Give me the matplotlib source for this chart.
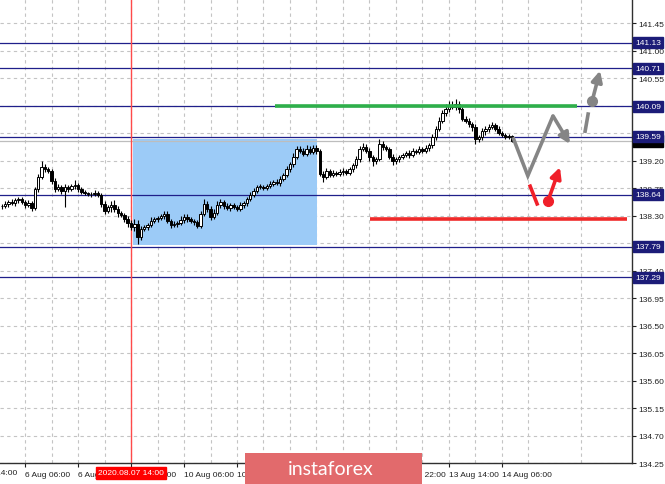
import numpy as np
import matplotlib
matplotlib.use("Agg")
from matplotlib import pyplot as plt
from matplotlib.patches import Rectangle
import matplotlib.transforms as mtransforms

# Data: hourly candles, bar index 0 = 5 Aug 14:00
first_bar = 9
first_open = 138.45
closes = [
    138.46, 138.49, 138.52, 138.50, 138.55, 138.57, 138.52, 138.47, 138.50, 138.42,
    138.73, 138.93, 139.09, 139.06, 139.03, 138.86, 138.73, 138.77, 138.70, 138.77,
    138.73, 138.78, 138.80, 138.73, 138.69, 138.67, 138.65, 138.65, 138.67, 138.64,
    138.49, 138.37, 138.44, 138.47, 138.41, 138.34, 138.31, 138.24, 138.18, 138.11,
    138.16, 137.95, 138.08, 138.11, 138.14, 138.21, 138.24, 138.26, 138.29, 138.32,
    138.21, 138.14, 138.16, 138.18, 138.23, 138.28, 138.24, 138.21, 138.19, 138.13,
    138.32, 138.49, 138.41, 138.28, 138.34, 138.47, 138.52, 138.46, 138.42, 138.47,
    138.44, 138.41, 138.47, 138.50, 138.57, 138.64, 138.70, 138.77, 138.77, 138.75,
    138.78, 138.82, 138.85, 138.83, 138.90, 138.96, 139.06, 139.14, 139.26, 139.39,
    139.36, 139.31, 139.39, 139.34, 139.41, 139.36, 138.98, 138.93, 139.03, 138.96,
    139.00, 138.98, 139.01, 139.03, 139.00, 139.06, 139.13, 139.22, 139.39, 139.42,
    139.36, 139.26, 139.19, 139.22, 139.47, 139.42, 139.39, 139.26, 139.19, 139.22,
    139.26, 139.29, 139.32, 139.29, 139.36, 139.34, 139.39, 139.36, 139.41, 139.45,
    139.58, 139.72, 139.85, 139.98, 140.04, 140.11, 140.08, 140.13, 140.04, 139.88,
    139.85, 139.80, 139.75, 139.55, 139.58, 139.68, 139.72, 139.75, 139.78, 139.72,
    139.65, 139.62, 139.58, 139.60, 139.52,
]
# wick lengths in pips (0.01)
wick_up = [
    3, 4, 3, 5, 4, 3, 4, 3, 5, 3,
    4, 5, 10, 6, 4, 3, 5, 4, 3, 5,
    3, 4, 8, 3, 4, 3, 2, 3, 4, 3,
    3, 4, 3, 6, 8, 5, 4, 3, 6, 4,
    8, 6, 5, 3, 4, 6, 3, 4, 3, 5,
    6, 4, 5, 3, 6, 5, 4, 3, 4, 3,
    5, 8, 4, 5, 6, 7, 5, 4, 5, 4,
    4, 3, 5, 4, 3, 4, 5, 3, 4, 3,
    3, 4, 3, 5, 4, 3, 5, 4, 6, 5,
    5, 4, 6, 4, 5, 4, 3, 5, 4, 3,
    4, 3, 5, 4, 3, 4, 3, 5, 4, 6,
    5, 4, 3, 4, 8, 5, 4, 3, 4, 3,
    3, 4, 3, 5, 4, 3, 4, 3, 5, 4,
    5, 4, 6, 5, 8, 7, 6, 8, 5, 4,
    5, 4, 3, 5, 4, 6, 5, 4, 5, 3,
    4, 3, 3, 3, 2,
]
wick_dn = [
    4, 3, 5, 3, 4, 5, 3, 4, 3, 5,
    3, 4, 4, 5, 3, 4, 5, 3, 4, 26,
    4, 3, 4, 5, 3, 4, 3, 4, 3, 4,
    5, 4, 3, 8, 5, 6, 4, 5, 6, 5,
    6, 12, 5, 4, 5, 3, 4, 5, 3, 4,
    4, 5, 3, 4, 3, 5, 4, 3, 5, 4,
    4, 3, 5, 6, 4, 3, 4, 5, 3, 4,
    3, 4, 3, 4, 5, 3, 4, 3, 4, 3,
    4, 3, 4, 3, 5, 4, 3, 5, 4, 3,
    3, 4, 3, 4, 3, 5, 4, 8, 4, 3,
    3, 4, 3, 5, 4, 3, 4, 5, 4, 3,
    4, 6, 8, 4, 3, 5, 4, 3, 6, 4,
    4, 3, 4, 5, 3, 4, 3, 4, 3, 5,
    4, 5, 4, 3, 5, 4, 3, 5, 6, 4,
    4, 5, 6, 8, 5, 4, 6, 5, 4, 3,
    3, 4, 3, 3, 2,
]

levels = [141.13, 140.71, 140.09, 139.59, 138.64, 137.79, 137.29]
bid_price = 139.52
price_ticks = [134.25, 134.70, 135.15, 135.60, 136.05, 136.50, 136.95, 137.40,
               137.85, 138.30, 138.75, 139.20, 139.65, 140.10, 140.55, 141.00, 141.45]
time_ticks = [16, 32, 48, 64, 80, 96, 112, 128, 144, 160]
time_labels = ["6 Aug 06:00", "6 Aug 22:00", "7 Aug 14:00",
               "10 Aug 06:00", "10 Aug 22:00", "11 Aug 14:00", "12 Aug 06:00",
               "12 Aug 22:00", "13 Aug 14:00", "14 Aug 06:00"]
cut_label_bar = 0
cut_label = "5 Aug 14:00"
red_vline_bar = 48
red_vline_label = "2020.08.07 14:00"

# zone and forecast drawings
zone_x = (48.6, 104.2)
zone_y = (137.81, 139.55)
green_line = (91.5, 182.7, 140.09)
red_line = (120.2, 197.8, 138.24)
grey_path_x = [163.3, 167.8, 175.4, 180.5]
grey_path_y = [139.58, 138.95, 139.93, 139.47]
grey_dash_x = [185.1, 186.0]
grey_dash_y = [139.68, 139.96]
grey_dot = (187.2, 140.17)
grey_arrow_to = (189.6, 140.67)
red_dash_x = [168.5, 170.6]
red_dash_y = [138.78, 138.49]
red_dot = (173.9, 138.54)
red_arrow_to = (177.5, 139.09)

plt.rcParams["font.family"] = ["Liberation Sans", "DejaVu Sans"]
fs = 6.0

fig = plt.figure(figsize=(6.65, 4.85), dpi=100)
ax = fig.add_axes([0, 21 / 485, 632 / 665, 464 / 485])

# grid / ticks (limits set afterwards, set_xticks would widen them)
ax.set_xticks(time_ticks)
ax.set_xticks(np.arange(8, 200, 16), minor=True)
ax.set_yticks(price_ticks)
ax.set_xlim(8.45, 199.25)
ax.set_ylim(134.25, 141.843)
ax.grid(True, which="both", color="#c4c4c4", linestyle=(0, (3, 3)), linewidth=0.8)
ax.set_axisbelow(True)

for s in ["left", "top"]:
    ax.spines[s].set_visible(False)
for s in ["right", "bottom"]:
    ax.spines[s].set_linewidth(1.0)
    ax.spines[s].set_color("#303030")

ax.yaxis.tick_right()
ax.set_yticklabels([f"{p:.2f}" for p in price_ticks])
ax.tick_params(axis="y", length=3, width=0.8, pad=1.5, labelsize=fs, colors="#202020")
ax.set_xticklabels(time_labels)
ax.tick_params(axis="x", which="major", length=3, width=0.8, pad=2.5, labelsize=fs, colors="#202020")
ax.tick_params(axis="x", which="minor", length=0)
for lab in ax.get_xticklabels():
    lab.set_ha("left")

trx = mtransforms.blended_transform_factory(ax.transData, ax.transAxes)
ax.text(cut_label_bar, -0.0215, cut_label, transform=trx, ha="left", va="center",
        fontsize=fs, color="#202020", clip_on=False)

# zone
ax.add_patch(Rectangle((zone_x[0], zone_y[0]), zone_x[1] - zone_x[0], zone_y[1] - zone_y[0],
                       facecolor="#9ccbf7", edgecolor="none", zorder=1))

# levels
for lv in levels:
    ax.axhline(lv, color="#1f1f8a", linewidth=0.9, zorder=2)
ax.axhline(bid_price, color="#bdbdbd", linewidth=0.9, zorder=1.5)
ax.axvline(red_vline_bar, color="#ff4a4a", linewidth=1.0, zorder=2)

# candles
opens = [first_open] + closes[:-1]
for k, (o, c) in enumerate(zip(opens, closes)):
    x = first_bar + k
    hi = max(o, c) + wick_up[k] / 100
    lo = min(o, c) - wick_dn[k] / 100
    ax.vlines(x, lo, hi, color="black", linewidth=0.8, zorder=3)
    body = max(abs(c - o), 0.006)
    face = "white" if c >= o else "black"
    ax.add_patch(Rectangle((x - 0.36, min(o, c)), 0.72, body, facecolor=face,
                           edgecolor="black", linewidth=0.7, zorder=4))

# forecast lines
ax.hlines(green_line[2], green_line[0], green_line[1], color="#2eaf4a", linewidth=2.6, zorder=5)
ax.hlines(red_line[2], red_line[0], red_line[1], color="#f02a2a", linewidth=2.6, zorder=5)

grey = "#858585"
ax.plot(grey_path_x[:-1], grey_path_y[:-1], color=grey, linewidth=2.6, zorder=6,
        solid_capstyle="butt", solid_joinstyle="miter")
ax.annotate("", xy=(grey_path_x[-1], grey_path_y[-1]), xytext=(grey_path_x[-2], grey_path_y[-2]),
            arrowprops=dict(arrowstyle="-|>", color=grey, lw=2.6, mutation_scale=16,
                            shrinkA=0, shrinkB=0), zorder=6)
ax.plot(grey_dash_x, grey_dash_y, color=grey, linewidth=2.6, zorder=6)
ax.plot(*grey_dot, "o", color=grey, markersize=7, zorder=6)
ax.annotate("", xy=grey_arrow_to, xytext=grey_dot,
            arrowprops=dict(arrowstyle="-|>", color=grey, lw=2.6, mutation_scale=16,
                            shrinkA=0, shrinkB=0), zorder=6)

red = "#f0202a"
ax.plot(red_dash_x, red_dash_y, color=red, linewidth=2.6, zorder=6)
ax.plot(*red_dot, "o", color=red, markersize=7, zorder=6)
ax.annotate("", xy=red_arrow_to, xytext=red_dot,
            arrowprops=dict(arrowstyle="-|>", color=red, lw=2.6, mutation_scale=16,
                            shrinkA=0, shrinkB=0), zorder=6)

# price labels on the right axis
tr = mtransforms.blended_transform_factory(ax.transAxes, ax.transData)
ax.text(1.0055, bid_price, f"{bid_price:.2f}", transform=tr, ha="left", va="center",
        fontsize=fs, color="white", zorder=9, clip_on=False,
        bbox=dict(boxstyle="square,pad=0.25", facecolor="black", edgecolor="black"))
for lv in levels:
    ax.text(1.0055, lv, f"{lv:.2f}", transform=tr, ha="left", va="center", fontsize=fs,
            color="white", zorder=10, clip_on=False,
            bbox=dict(boxstyle="square,pad=0.25", facecolor="#1c1c78", edgecolor="#1c1c78"))

# red time label
ax.text(red_vline_bar, -0.0215, red_vline_label, transform=trx, ha="center", va="center",
        fontsize=fs, color="white", zorder=10, clip_on=False,
        bbox=dict(boxstyle="square,pad=0.3", facecolor="#ff0000", edgecolor="#ff0000"))

# logo
fig.patches.append(Rectangle((245 / 665, 0), 177 / 665, 31 / 485, transform=fig.transFigure,
                             facecolor="#e26a6c", edgecolor="none", zorder=20))
fig.text(331 / 665, 15 / 485, "instaforex", ha="center", va="center", color="white",
         fontsize=14, family=["Lato", "DejaVu Sans"], zorder=21)

fig.savefig("out.png", dpi=100)
